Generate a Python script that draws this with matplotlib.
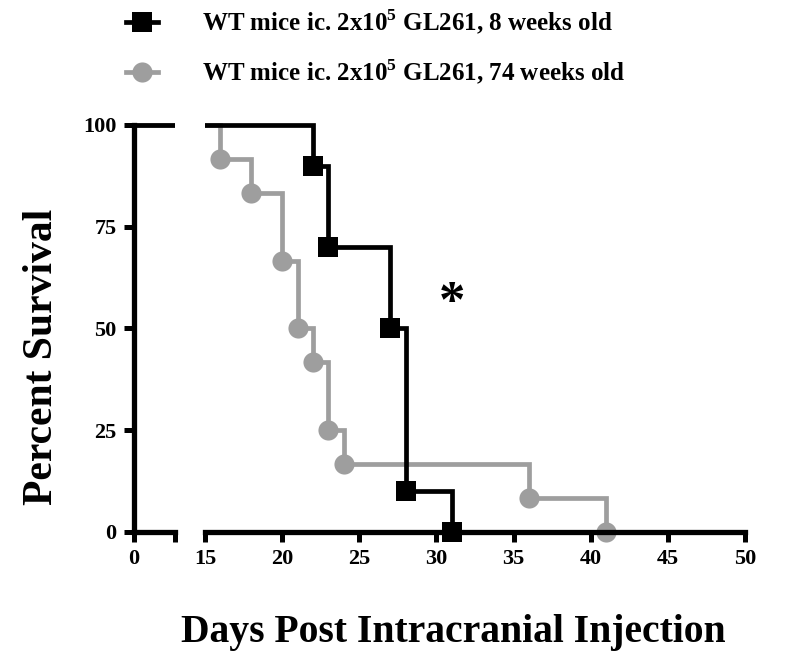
import numpy as np
import matplotlib
matplotlib.use("Agg")
import matplotlib.pyplot as plt
from matplotlib.lines import Line2D
from matplotlib.patches import Rectangle

plt.rcParams['font.family'] = ['Liberation Serif', 'DejaVu Serif']
plt.rcParams['font.weight'] = 'bold'
plt.rcParams['mathtext.fontset'] = 'custom'
plt.rcParams['mathtext.rm'] = 'Liberation Serif:bold'
plt.rcParams['mathtext.bf'] = 'Liberation Serif:bold'

# survival data (days, percent)
days_8wk = [0, 22, 23, 27, 28, 31]
surv_8wk = [100, 90, 70, 50, 10, 0]
days_74wk = [0, 16, 18, 20, 21, 22, 23, 24, 36, 41]
surv_74wk = [100, 91.7, 83.3, 66.7, 50, 41.7, 25, 16.7, 8.3, 0]

label_8wk = "WT mice ic. 2x10$^{\\mathbf{5}}$ GL261, 8 weeks old"
label_74wk = "WT mice ic. 2x10$^{\\mathbf{5}}$ GL261, 74 weeks old"

yticks = [0, 25, 50, 75, 100]
xticks_right = [15, 20, 25, 30, 35, 40, 45, 50]

black = "black"
gray = "#9e9e9e"
lw_line = 3.4
lw_axis = 3.8

fig = plt.figure(figsize=(8, 6.67), dpi=100)
ax_l = fig.add_axes([0.1675, 0.2024, 0.05125, 0.6102])
ax_r = fig.add_axes([0.25625, 0.2024, 0.675, 0.6102])

series = [
    (days_74wk, surv_74wk, gray, "o", label_74wk),
    (days_8wk, surv_8wk, black, "s", label_8wk),
]

for ax in (ax_l, ax_r):
    for d, s, c, m, lab in series:
        line, = ax.step(d, s, where="post", color=c, lw=lw_line, solid_joinstyle="miter")
        # let the line overflow vertically but not horizontally
        clip = Rectangle((0, -0.1), 1, 1.2, transform=ax.transAxes)
        line.set_clip_path(clip)
        pts, = ax.plot(d[1:], s[1:], ls="none", marker=m, color=c, ms=14.5, mew=0)
        pts.set_clip_path(clip)
    ax.set_ylim(0, 100)
    for sp in ("top", "right"):
        ax.spines[sp].set_visible(False)
    ax.spines["bottom"].set_linewidth(lw_axis)
    ax.spines["left"].set_linewidth(lw_axis)
    ax.tick_params(width=3.6, length=7.5, labelsize=16, pad=5)

ax_l.set_xlim(0, 2.66)
ax_l.set_xticks([0, 2.66])
ax_l.set_xticklabels(["0", ""])
ax_l.set_yticks(yticks)
ax_l.set_yticklabels([str(v) for v in yticks])

ax_r.set_xlim(15, 50)
ax_r.set_xticks(xticks_right)
ax_r.spines["left"].set_visible(False)
ax_r.tick_params(axis="y", left=False, labelleft=False)
ax_r.set_yticks(yticks)

ax_r.text(31, 56, "*", fontsize=38, ha="center", va="center", fontweight="bold")

fig.text(0.053, 0.465, "Percent Survival", rotation=90, fontsize=30,
         ha="center", va="center", fontweight="bold")
fig.text(0.567, 0.052, "Days Post Intracranial Injection", fontsize=28.5,
         ha="center", va="center", fontweight="bold")

handles = [
    Line2D([], [], color=black, lw=lw_line, marker="s", ms=14.5, mew=0),
    Line2D([], [], color=gray, lw=lw_line, marker="o", ms=14.5, mew=0),
]
fig.legend(handles, [label_8wk, label_74wk], loc="upper left",
           bbox_to_anchor=(0.135, 1.015), frameon=False, fontsize=18,
           handlelength=1.3, handletextpad=1.75, labelspacing=0.85,
           borderaxespad=0.3)

fig.savefig("out.png", dpi=100)
